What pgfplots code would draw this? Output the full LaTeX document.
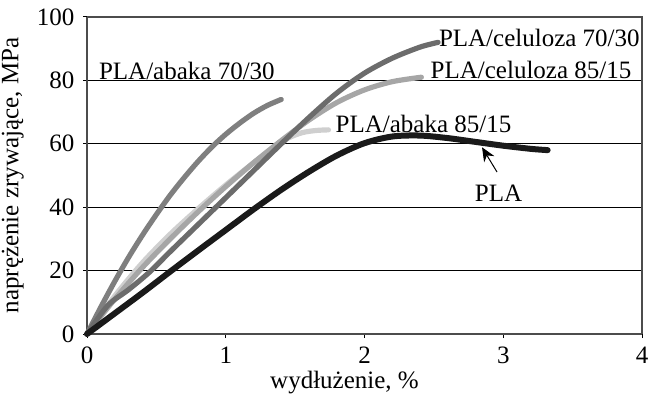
\documentclass[border=0pt]{standalone}
\usepackage{pgfplots}
\pgfplotsset{compat=1.18}
\usepackage{fontspec}
\setmainfont{Liberation Serif}
\usetikzlibrary{arrows.meta,calc}
\definecolor{cA}{HTML}{7F7F7F}
\definecolor{cB}{HTML}{6C6C6C}
\definecolor{cC}{HTML}{A6A6A6}
\definecolor{cD}{HTML}{CFCFCF}
\definecolor{cE}{HTML}{1A1A1A}
\begin{document}
\fontsize{12.5}{15}\selectfont
\begin{tikzpicture}
\begin{axis}[
  scale only axis, width=277.5pt, height=158.5pt,
  xmin=0, xmax=4, ymin=0, ymax=100,
  xtick={0,1,2,3,4}, ytick={0,20,40,60,80,100},
  tick align=outside, major tick length=2pt,
  tick style={black, line width=0.5pt},
  ymajorgrids, grid style={black, line width=0.6pt},
  axis line style={black!70, line width=0.6pt},
  axis x line*=bottom, axis y line*=left,
  /pgf/number format/assume math mode=true,
  ticklabel style={font=\fontsize{12.5}{15}\selectfont},
  label style={font=\fontsize{12.5}{15}\selectfont},
  xlabel={wydłużenie, \%},
  ylabel={naprężenie zrywające, MPa},
  xlabel style={yshift=5pt, xshift=-10pt},
  ylabel style={yshift=-2pt},
  every axis plot/.append style={line join=round, line cap=round, smooth, tension=0.5},
  clip=false,
]
\draw[black!70, line width=0.6pt] (rel axis cs:0,1) -- (rel axis cs:1,1) -- (rel axis cs:1,0);
\coordinate (SW) at (rel axis cs:0,0);
\coordinate (NE) at (rel axis cs:1,1);
% PLA/abaka 85/15
\addplot[cD, line width=2.6pt] coordinates {(0,0)(0.2,12)(0.4,22.5)(0.6,31.5)(0.8,39.5)(1.0,47)(1.2,54)(1.35,59)(1.45,61.8)(1.55,63.5)(1.65,64.2)(1.74,64.4)};
% PLA/celuloza 85/15
\addplot[cC, line width=2.6pt] coordinates {(0,0)(0.2,11)(0.4,21)(0.6,30)(0.8,38.5)(1.0,46.5)(1.2,54)(1.4,61)(1.6,67.5)(1.8,73)(2.0,77)(2.2,79.6)(2.41,81)};
% PLA/abaka 70/30
\addplot[cA, line width=2.6pt] coordinates {(0,0)(0.1,8.5)(0.2,16.6)(0.3,24.2)(0.4,31.2)(0.5,37.7)(0.6,43.8)(0.7,49.3)(0.8,54.4)(0.9,59)(1.0,63)(1.1,66.5)(1.2,69.6)(1.3,72.1)(1.4,74)};
% PLA/celuloza 70/30
\addplot[cB, line width=2.6pt] coordinates {(0,0)(0.15,9)(0.3,14)(0.45,19.5)(0.6,26)(0.8,34.5)(1.0,43)(1.2,51.5)(1.4,60)(1.6,68.3)(1.8,76)(2.0,82.3)(2.2,87)(2.4,90.5)(2.53,92)};
% PLA
\addplot[cE, line width=3pt] coordinates {(0,0)(0.2,6.5)(0.4,13)(0.6,19.7)(0.8,26.3)(1.0,32.8)(1.2,39.3)(1.4,45.5)(1.6,51.2)(1.8,56.3)(2.0,60.2)(2.2,62.3)(2.4,62.6)(2.6,61.8)(2.8,60.6)(3.0,59.4)(3.2,58.4)(3.32,58)};
\node at (axis cs:0.72,83) {PLA/abaka 70/30};
\node at (axis cs:3.26,93.4) {PLA/celuloza 70/30};
\node at (axis cs:3.2,83.3) {PLA/celuloza 85/15};
\node at (axis cs:2.425,66.2) {PLA/abaka 85/15};
\node at (axis cs:2.966,44.5) {PLA};
\draw[-{Stealth[length=7pt,width=6pt]}, line width=0.5pt] (axis cs:2.955,51.1) -- (axis cs:2.847,58.9);
\end{axis}
\pgfresetboundingbox
\path ($(SW)+(-43.5pt,-30pt)$) rectangle ($(NE)+(3.5pt,8.5pt)$);
\end{tikzpicture}
\end{document}
